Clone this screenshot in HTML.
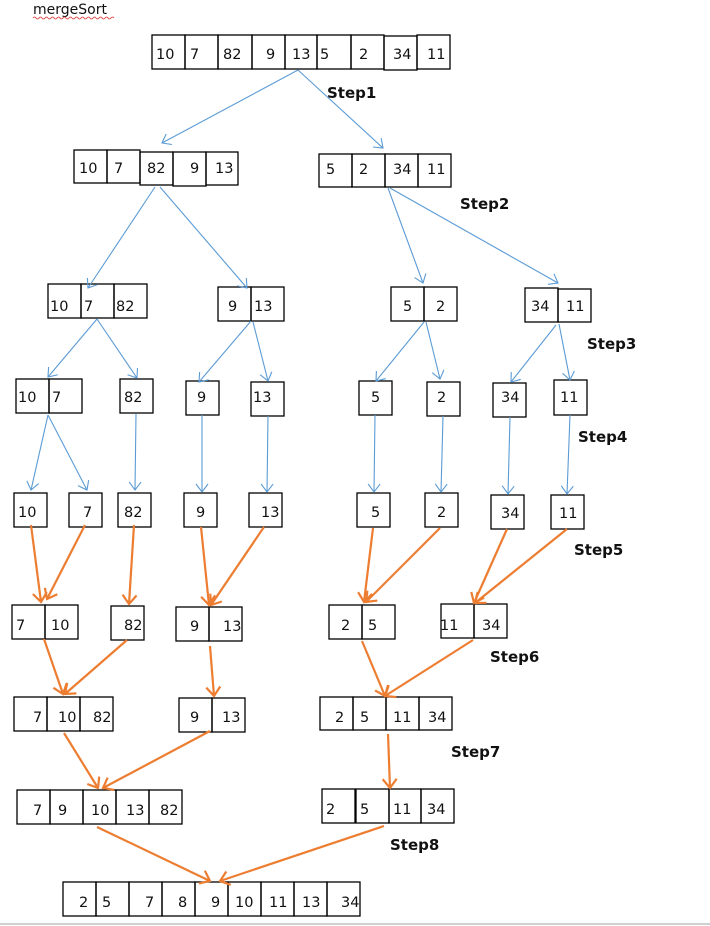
<!DOCTYPE html>
<html><head><meta charset="utf-8"><style>
html,body{margin:0;padding:0;background:#fff;}
svg{display:block;}
text{font-family:"DejaVu Sans","Liberation Sans",sans-serif;font-size:14.5px;fill:#111;}
.s{font-weight:bold;font-size:15px;}
.b{stroke:#000;stroke-width:1.3;fill:none;}
.bl{stroke:#5b9bd5;stroke-width:1.1;fill:none;marker-end:url(#mb);}
.or{stroke:#ed7d31;stroke-width:2.2;fill:none;marker-end:url(#mo);}
</style></head><body>
<svg width="710" height="926" viewBox="0 0 710 926">
<defs>
<marker id="mb" markerUnits="userSpaceOnUse" markerWidth="20" markerHeight="20" refX="10" refY="10" orient="auto"><path d="M2,4 L10,10 L2,16" stroke="#5b9bd5" stroke-width="1.1" fill="none"/></marker>
<marker id="mo" markerUnits="userSpaceOnUse" markerWidth="24" markerHeight="24" refX="12" refY="12" orient="auto"><path d="M3,5 L12,12 L3,19" stroke="#ed7d31" stroke-width="2.2" fill="none"/></marker>
</defs>
<text x="33" y="14" style="font-size:14px">mergeSort</text>
<path d="M33,18 q1.5,-2 3,0 t3,0 t3,0 t3,0 t3,0 t3,0 t3,0 t3,0 t3,0 t3,0 t3,0 t3,0 t3,0 t3,0 t3,0 t3,0 t3,0 t3,0 t3,0 t3,0 t3,0 t3,0 t3,0 t3,0 t3,0 t3,0 t3,0" stroke="#e03030" stroke-width="0.8" fill="none"/>

<!-- Row0 -->
<g class="b"><rect x="152" y="35" width="33" height="34"/><rect x="185" y="35" width="33" height="34"/><rect x="218" y="35" width="34" height="34"/><rect x="252" y="35" width="33" height="34"/><rect x="285" y="35" width="32" height="34"/><rect x="317" y="35" width="34" height="34"/><rect x="351" y="35" width="33" height="34"/><rect x="384" y="36" width="33" height="34"/><rect x="417" y="35" width="33" height="34"/></g>
<text x="156" y="59">10</text><text x="190" y="59">7</text><text x="223" y="59">82</text><text x="266" y="59">9</text><text x="292" y="59">13</text><text x="320" y="59">5</text><text x="359" y="59">2</text><text x="393" y="59">34</text><text x="427" y="59">11</text>

<!-- Row1 -->
<g class="b"><rect x="74" y="150" width="33" height="33"/><rect x="107" y="150" width="33" height="33"/><rect x="140" y="152" width="33" height="33"/><rect x="173" y="152" width="33" height="34"/><rect x="206" y="152" width="32" height="33"/><rect x="319" y="154" width="33" height="33"/><rect x="352" y="154" width="33" height="33"/><rect x="385" y="154" width="33" height="33"/><rect x="418" y="154" width="33" height="33"/></g>
<text x="79" y="173">10</text><text x="114" y="173">7</text><text x="147" y="173">82</text><text x="190" y="173">9</text><text x="215" y="173">13</text><text x="326" y="174">5</text><text x="359" y="174">2</text><text x="393" y="174">34</text><text x="427" y="174">11</text>
<text class="s" x="327" y="98">Step1</text>

<!-- Row2 -->
<g class="b"><rect x="48" y="284" width="33" height="34"/><rect x="81" y="284" width="33" height="34"/><rect x="114" y="284" width="33" height="34"/><rect x="218" y="287" width="33" height="34"/><rect x="251" y="287" width="33" height="34"/><rect x="391" y="287" width="33" height="34"/><rect x="424" y="287" width="33" height="34"/><rect x="525" y="288" width="33" height="34"/><rect x="558" y="289" width="33" height="33"/></g>
<text x="50" y="311">10</text><text x="84" y="311">7</text><text x="116" y="311">82</text><text x="228" y="311">9</text><text x="254" y="311">13</text><text x="403" y="311">5</text><text x="436" y="311">2</text><text x="531" y="311">34</text><text x="566" y="311">11</text>
<text class="s" x="460" y="209">Step2</text>

<!-- Row3 -->
<g class="b"><rect x="16" y="379" width="33" height="34"/><rect x="49" y="379" width="33" height="34"/><rect x="120" y="379" width="33" height="34"/><rect x="186" y="381" width="33" height="34"/><rect x="251" y="382" width="33" height="34"/><rect x="359" y="381" width="33" height="34"/><rect x="427" y="382" width="33" height="34"/><rect x="493" y="383" width="33" height="34"/><rect x="554" y="380" width="33" height="35"/></g>
<text x="18" y="402">10</text><text x="52" y="402">7</text><text x="124" y="402">82</text><text x="197" y="402">9</text><text x="253" y="402">13</text><text x="371" y="402">5</text><text x="437" y="402">2</text><text x="501" y="402">34</text><text x="560" y="402">11</text>
<text class="s" x="587" y="349">Step3</text>

<!-- Row4 -->
<g class="b"><rect x="14" y="493" width="33" height="34"/><rect x="69" y="493" width="33" height="34"/><rect x="118" y="493" width="33" height="34"/><rect x="184" y="493" width="33" height="34"/><rect x="249" y="493" width="33" height="34"/><rect x="357" y="493" width="33" height="34"/><rect x="425" y="493" width="33" height="34"/><rect x="491" y="495" width="33" height="34"/><rect x="551" y="495" width="33" height="34"/></g>
<text x="18" y="517">10</text><text x="83" y="517">7</text><text x="124" y="517">82</text><text x="196" y="517">9</text><text x="261" y="517">13</text><text x="371" y="517">5</text><text x="437" y="517">2</text><text x="501" y="518">34</text><text x="559" y="518">11</text>
<text class="s" x="578" y="442">Step4</text>

<!-- Row5 -->
<g class="b"><rect x="12" y="605" width="33" height="34"/><rect x="45" y="605" width="33" height="34"/><rect x="111" y="606" width="33" height="34"/><rect x="176" y="607" width="33" height="34"/><rect x="209" y="607" width="33" height="34"/><rect x="329" y="605" width="33" height="34"/><rect x="362" y="605" width="33" height="34"/><rect x="441" y="604" width="33" height="34"/><rect x="474" y="604" width="33" height="34"/></g>
<text x="16" y="630">7</text><text x="51" y="630">10</text><text x="124" y="630">82</text><text x="190" y="631">9</text><text x="223" y="631">13</text><text x="341" y="630">2</text><text x="368" y="630">5</text><text x="440" y="630">11</text><text x="482" y="630">34</text>
<text class="s" x="574" y="555">Step5</text>

<!-- Row6 -->
<g class="b"><rect x="14" y="697" width="33" height="34"/><rect x="47" y="697" width="33" height="34"/><rect x="80" y="697" width="33" height="34"/><rect x="179" y="698" width="33" height="34"/><rect x="212" y="698" width="33" height="34"/><rect x="320" y="697" width="33" height="33"/><rect x="353" y="697" width="33" height="33"/><rect x="386" y="697" width="33" height="33"/><rect x="419" y="697" width="33" height="33"/></g>
<text x="33" y="722">7</text><text x="58" y="722">10</text><text x="93" y="722">82</text><text x="190" y="722">9</text><text x="222" y="722">13</text><text x="335" y="722">2</text><text x="360" y="722">5</text><text x="393" y="722">11</text><text x="428" y="722">34</text>
<text class="s" x="490" y="662">Step6</text>

<!-- Row7 -->
<g class="b"><rect x="17" y="790" width="33" height="34"/><rect x="50" y="790" width="33" height="34"/><rect x="83" y="790" width="33" height="34"/><rect x="116" y="790" width="33" height="34"/><rect x="149" y="790" width="33" height="34"/><rect x="322" y="789" width="33" height="34"/><rect x="356" y="789" width="33" height="34"/><rect x="389" y="789" width="32" height="34"/><rect x="421" y="789" width="33" height="34"/></g>
<text x="33" y="815">7</text><text x="58" y="815">9</text><text x="91" y="815">10</text><text x="126" y="815">13</text><text x="160" y="815">82</text><text x="326" y="814">2</text><text x="360" y="814">5</text><text x="393" y="814">11</text><text x="427" y="814">34</text>
<text class="s" x="451" y="757">Step7</text>

<!-- Row8 -->
<g class="b"><rect x="63" y="882" width="33" height="34"/><rect x="96" y="882" width="33" height="34"/><rect x="129" y="882" width="33" height="34"/><rect x="162" y="882" width="33" height="34"/><rect x="195" y="882" width="33" height="34"/><rect x="228" y="882" width="33" height="34"/><rect x="261" y="882" width="33" height="34"/><rect x="294" y="882" width="33" height="34"/><rect x="327" y="882" width="33" height="34"/></g>
<text x="79" y="907">2</text><text x="102" y="907">5</text><text x="145" y="907">7</text><text x="178" y="907">8</text><text x="211" y="907">9</text><text x="235" y="907">10</text><text x="269" y="907">11</text><text x="302" y="907">13</text><text x="341" y="907">34</text>
<text class="s" x="390" y="850">Step8</text>

<!-- Blue arrows -->
<line class="bl" x1="298" y1="70" x2="162" y2="143"/>
<line class="bl" x1="298" y1="70" x2="383" y2="148"/>
<line class="bl" x1="155" y1="187" x2="88" y2="288"/>
<line class="bl" x1="160" y1="187" x2="247" y2="288"/>
<line class="bl" x1="388" y1="188" x2="423" y2="283"/>
<line class="bl" x1="390" y1="188" x2="558" y2="283"/>
<line class="bl" x1="97" y1="319" x2="48" y2="377"/>
<line class="bl" x1="97" y1="319" x2="137" y2="378"/>
<line class="bl" x1="251" y1="321" x2="199" y2="382"/>
<line class="bl" x1="253" y1="322" x2="268" y2="381"/>
<line class="bl" x1="424" y1="322" x2="376" y2="381"/>
<line class="bl" x1="426" y1="322" x2="440" y2="379"/>
<line class="bl" x1="556" y1="325" x2="511" y2="382"/>
<line class="bl" x1="559" y1="324" x2="570" y2="380"/>
<line class="bl" x1="48" y1="415" x2="31" y2="490"/>
<line class="bl" x1="48" y1="415" x2="87" y2="490"/>
<line class="bl" x1="136" y1="414" x2="135" y2="490"/>
<line class="bl" x1="202" y1="415" x2="202" y2="492"/>
<line class="bl" x1="268" y1="416" x2="267" y2="492"/>
<line class="bl" x1="375" y1="415" x2="374" y2="492"/>
<line class="bl" x1="443" y1="416" x2="441" y2="492"/>
<line class="bl" x1="510" y1="417" x2="508" y2="494"/>
<line class="bl" x1="570" y1="415" x2="567" y2="494"/>

<!-- Orange arrows -->
<line class="or" x1="31" y1="525" x2="41" y2="602"/>
<line class="or" x1="85" y1="525" x2="47" y2="599"/>
<line class="or" x1="134" y1="525" x2="129" y2="604"/>
<line class="or" x1="201" y1="527" x2="209" y2="605"/>
<line class="or" x1="264" y1="527" x2="211" y2="605"/>
<line class="or" x1="373" y1="528" x2="364" y2="602"/>
<line class="or" x1="440" y1="528" x2="366" y2="602"/>
<line class="or" x1="507" y1="529" x2="474" y2="603"/>
<line class="or" x1="567" y1="529" x2="475" y2="603"/>
<line class="or" x1="44" y1="639" x2="63" y2="694"/>
<line class="or" x1="127" y1="640" x2="65" y2="694"/>
<line class="or" x1="210" y1="646" x2="214" y2="696"/>
<line class="or" x1="362" y1="641" x2="385" y2="696"/>
<line class="or" x1="473" y1="640" x2="385" y2="696"/>
<line class="or" x1="64" y1="733" x2="98" y2="788"/>
<line class="or" x1="210" y1="731" x2="103" y2="788"/>
<line class="or" x1="388" y1="734" x2="390" y2="788"/>
<line class="or" x1="97" y1="827" x2="210" y2="881"/>
<line class="or" x1="384" y1="826" x2="220" y2="881"/>

<line x1="0" y1="924" x2="710" y2="924" stroke="#d0d0d0" stroke-width="2"/>
</svg>
</body></html>
